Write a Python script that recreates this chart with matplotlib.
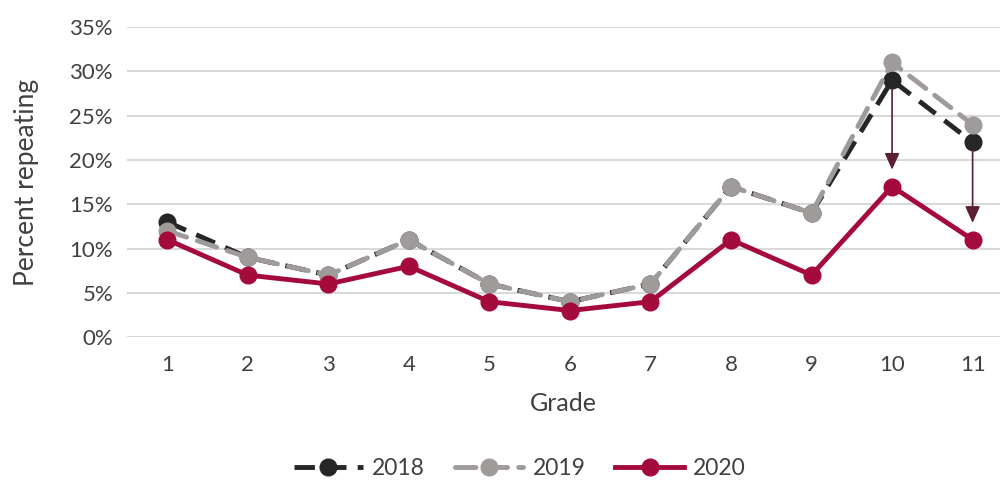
import matplotlib
matplotlib.use("Agg")
import matplotlib.pyplot as plt
from matplotlib.ticker import FuncFormatter

grades = [1, 2, 3, 4, 5, 6, 7, 8, 9, 10, 11]
y2018 = [13, 9, 7, 11, 6, 4, 6, 17, 14, 29, 22]
y2019 = [12, 9, 7, 11, 6, 4, 6, 17, 14, 31, 24]
y2020 = [11, 7, 6, 8, 4, 3, 4, 11, 7, 17, 11]
yticks = [0, 5, 10, 15, 20, 25, 30, 35]

# arrows from 2018 down to 2020 at these grades
arrow_grades = [10, 11]

plt.rcParams["font.family"] = ["Lato", "DejaVu Sans"]
text_col = "#404040"

fig = plt.figure(figsize=(10, 4.83), dpi=100)
ax = fig.add_axes([0.127, 0.302, 0.873, 0.642])

ax.plot(grades, y2018, color="#262626", lw=3.5, marker="o", ms=12,
        dashes=(4.2, 2.3), label="2018", clip_on=False, zorder=2)
ax.plot(grades, y2019, color="#9e9b9a", lw=3.5, marker="o", ms=12,
        dashes=(4.2, 2.3), dash_capstyle="round", label="2019",
        clip_on=False, zorder=3)
ax.plot(grades, y2020, color="#a50a3c", lw=3.5, marker="o", ms=12,
        label="2020", clip_on=False, zorder=4)

for g in arrow_grades:
    i = grades.index(g)
    ax.annotate("", xy=(g, y2020[i] + 1.9), xytext=(g, y2018[i] - 0.9),
                arrowprops=dict(arrowstyle="-|>,head_length=1.0,head_width=0.45",
                                color="#5a1f35", lw=1.2, shrinkA=0, shrinkB=0),
                zorder=5)

ax.set_xlim(0.5, 11.34)
ax.set_ylim(0, 35)
ax.set_xticks(grades)
ax.set_yticks(yticks)
ax.yaxis.set_major_formatter(FuncFormatter(lambda v, p: "%d%%" % v))
ax.grid(axis="y", color="#d9d9d9", lw=1.5)
ax.set_axisbelow(True)
for s in ax.spines.values():
    s.set_visible(False)
ax.tick_params(length=0, labelsize=16, colors=text_col, pad=10)
ax.tick_params(axis="x", pad=13)

ax.set_xlabel("Grade", fontsize=18, color=text_col, labelpad=12)
ax.set_ylabel("Percent repeating", fontsize=19, color=text_col, labelpad=22)

fig.legend(loc="center", bbox_to_anchor=(0.52, 0.03), ncol=3,
           frameon=False, fontsize=16.5, handlelength=3.0, columnspacing=1.3,
           handletextpad=0.4, labelcolor=text_col, borderpad=0)

fig.savefig("out.png", dpi=100)
